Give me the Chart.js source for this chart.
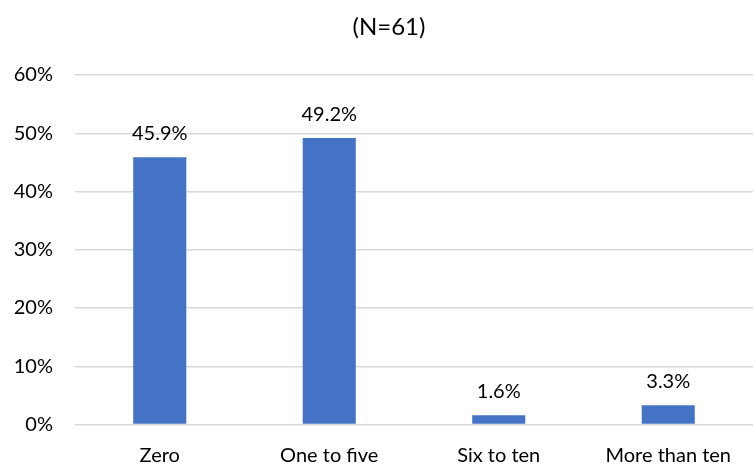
<!DOCTYPE html>
<html>
<head>
<meta charset="utf-8">
<script src="https://cdn.jsdelivr.net/npm/chart.js@4"></script>
<style>
  html, body { margin: 0; padding: 0; background: #ffffff; }
  #wrap { width: 753px; height: 464px; }
</style>
</head>
<body>
<div id="wrap"><canvas id="c" width="753" height="464"></canvas></div>
<script>
const categories = ['Zero', 'One to five', 'Six to ten', 'More than ten'];
const shares = [45.9, 49.2, 1.6, 3.3];
const yTicks = [0, 10, 20, 30, 40, 50, 60];
const titleText = '(N=61)';

const FONT = 'Lato, "Liberation Sans", sans-serif';

// Title above the plot
const titlePlugin = {
  id: 'topTitle',
  afterDraw(chart) {
    const ctx = chart.ctx;
    ctx.save();
    ctx.font = '24px ' + FONT;
    ctx.fillStyle = '#000000';
    ctx.textAlign = 'center';
    ctx.textBaseline = 'alphabetic';
    ctx.fillText(titleText, 389, 35);
    ctx.restore();
  }
};

// Value labels above each bar
const valueLabels = {
  id: 'valueLabels',
  afterDatasetsDraw(chart) {
    const ctx = chart.ctx;
    const meta = chart.getDatasetMeta(0);
    ctx.save();
    ctx.font = '20px ' + FONT;
    ctx.fillStyle = '#000000';
    ctx.textAlign = 'center';
    ctx.textBaseline = 'alphabetic';
    meta.data.forEach((bar, i) => {
      ctx.fillText(shares[i].toFixed(1) + '%', bar.x, bar.y - 17);
    });
    ctx.restore();
  }
};

new Chart(document.getElementById('c'), {
  type: 'bar',
  data: {
    labels: categories,
    datasets: [{
      data: shares,
      backgroundColor: '#4472C4',
      borderWidth: 0,
      categoryPercentage: 1,
      barPercentage: 0.313
    }]
  },
  options: {
    responsive: false,
    animation: false,
    devicePixelRatio: 1,
    layout: { padding: { top: 75, right: 0, bottom: 0, left: 0 } },
    plugins: {
      legend: { display: false },
      title: { display: false },
      tooltip: { enabled: false }
    },
    scales: {
      x: {
        grid: { display: false, drawTicks: false },
        border: { display: false },
        ticks: {
          color: '#000000',
          font: { family: FONT, size: 20 },
          padding: 19,
          maxRotation: 0
        },
        afterFit(scale) { scale.height = 39.5; }
      },
      y: {
        min: 0,
        max: 60,
        afterBuildTicks(scale) { scale.ticks = yTicks.map(v => ({ value: v })); },
        grid: { color: '#d9d9d9', lineWidth: 1.5, drawTicks: false },
        border: { display: false },
        ticks: {
          color: '#000000',
          font: { family: FONT, size: 20 },
          padding: 22,
          callback: v => v + '%'
        },
        afterFit(scale) { scale.width = 75; }
      }
    }
  },
  plugins: [titlePlugin, valueLabels]
});
</script>
</body>
</html>
